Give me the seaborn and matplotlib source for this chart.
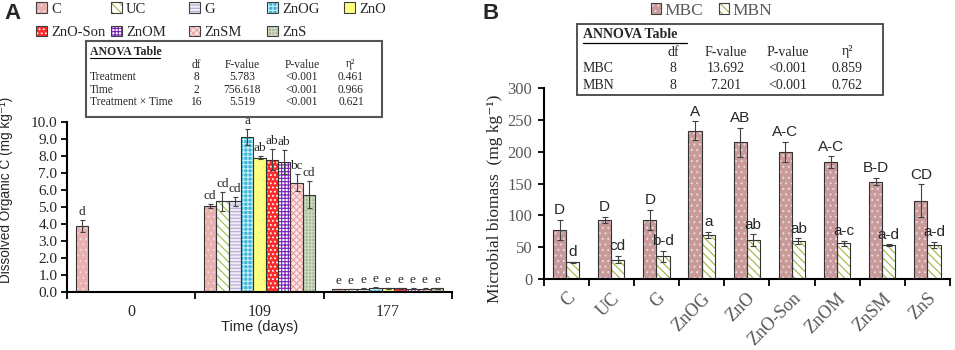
import pandas as pd
import matplotlib
matplotlib.use("Agg")
import matplotlib.pyplot as plt
from matplotlib.patches import Patch, Rectangle
from matplotlib.lines import Line2D
from matplotlib.legend_handler import HandlerTuple
import seaborn as sns

# ---- data ----
treatments = ["C", "UC", "G", "ZnOG", "ZnO", "ZnO-Son", "ZnOM", "ZnSM", "ZnS"]
days = ["0", "109", "177"]

doc_d0 = [3.85, None, None, None, None, None, None, None, None]
doc_d0_err = [0.35, None, None, None, None, None, None, None, None]
doc_d0_let = ["d", None, None, None, None, None, None, None, None]

doc_d109 = [5.05, 5.32, 5.32, 9.10, 7.89, 7.77, 7.63, 6.42, 5.71]
doc_d109_err = [0.13, 0.55, 0.25, 0.45, 0.08, 0.60, 0.68, 0.52, 0.78]
doc_d109_let = ["cd", "cd", "cd", "a", "ab", "ab", "ab", "bc", "cd"]

doc_d177 = [0.15, 0.16, 0.18, 0.22, 0.20, 0.20, 0.18, 0.17, 0.20]
doc_d177_err = [0.02, 0.02, 0.02, 0.03, 0.02, 0.03, 0.02, 0.02, 0.02]
doc_d177_let = ["e", "e", "e", "e", "e", "e", "e", "e", "e"]

mbc = [77, 93, 93, 233, 215, 200, 184, 153, 123]
mbc_err = [16, 5, 16, 15, 23, 16, 9, 6, 26]
mbc_let = ["D", "D", "D", "A", "AB", "A-C", "A-C", "B-D", "CD"]
mbn = [26, 30, 35, 69, 61, 59, 56, 53, 53]
mbn_err = [1, 6, 9, 5, 9, 4.5, 4, 1, 5]
mbn_let = ["d", "cd", "b-d", "a", "ab", "ab", "a-c", "a-d", "a-d"]

anova_a_rows = ["Treatment", "Time", "Treatment \u00d7 Time"]
anova_a_df = ["8", "2", "16"]
anova_a_f = ["5.783", "756.618", "5.519"]
anova_a_p = ["<0.001", "<0.001", "<0.001"]
anova_a_eta = ["0.461", "0.966", "0.621"]

anova_b_rows = ["MBC", "MBN"]
anova_b_df = ["8", "8"]
anova_b_f = ["13.692", "7.201"]
anova_b_p = ["<0.001", "<0.001"]
anova_b_eta = ["0.859", "0.762"]

# ---- styles ----
face = {"C": "#e8b0b0", "UC": "#ffffff", "G": "#f0ecf6", "ZnOG": "#3cb4d4",
        "ZnO": "#ffff80", "ZnO-Son": "#ff2a2a", "ZnOM": "#ffffff",
        "ZnSM": "#fbe4e4", "ZnS": "#a8b898", "MBC": "#c89a9a", "MBN": "#ffffff"}
hatch = {"C": "...", "UC": "\\\\\\\\", "G": "-----", "ZnOG": "++++",
         "ZnO": "", "ZnO-Son": "....", "ZnOM": "+++++", "ZnSM": "xxxxx",
         "ZnS": "+++++", "MBC": "...", "MBN": "\\\\\\\\"}
hcol = {"C": "#f4d6d6", "UC": "#9cbc40", "G": "#b8a8d8", "ZnOG": "#c8eef8",
        "ZnO": "#ffff80", "ZnO-Son": "#ffffff", "ZnOM": "#7a20b8",
        "ZnSM": "#eca0a0", "ZnS": "#d0dcc4", "MBC": "#ead6d6", "MBN": "#9cb640"}

SERIF = ["Liberation Serif", "DejaVu Serif"]
SANS = ["Liberation Sans", "DejaVu Sans"]
GRAY = "#595959"

sns.set_style("ticks")
plt.rcParams["font.family"] = SERIF
plt.rcParams["hatch.linewidth"] = 0.8

W, H = 955, 350
fig = plt.figure(figsize=(W / 100, H / 100), dpi=100)


def fx(x):
    return x / W


def fy(y):
    return 1 - y / H


def style_bar(ax, bar, key):
    bar.set_facecolor(face[key])
    bar.set_hatch(hatch[key])
    bar.set_edgecolor(hcol[key])
    bar.set_linewidth(0)
    ax.add_patch(Rectangle((bar.get_x(), 0), bar.get_width(), bar.get_height(),
                           fill=False, edgecolor="#333333", lw=0.8, zorder=3))


def legend_handle(key):
    return (Patch(facecolor=face[key], hatch=hatch[key], edgecolor=hcol[key], lw=0),
            Patch(fill=False, edgecolor="#404040", lw=0.8))


HMAP = {tuple: HandlerTuple(ndivide=1, pad=0)}

# ================= Panel A =================
axA = fig.add_axes([fx(67), fy(291.7), (452 - 67) / W, (291.7 - 121.7) / H])

vals_by_day = [doc_d0, doc_d109, doc_d177]
errs_by_day = [doc_d0_err, doc_d109_err, doc_d177_err]
lets_by_day = [doc_d0_let, doc_d109_let, doc_d177_let]

rows = []
for day, vals in zip(days, vals_by_day):
    for t, v in zip(treatments, vals):
        rows.append({"day": day, "trt": t, "doc": 0.0 if v is None else v})
dfA = pd.DataFrame(rows)

sns.barplot(data=dfA, x="day", y="doc", hue="trt", order=days, hue_order=treatments,
            palette=[face[t] for t in treatments], saturation=1, width=0.865,
            errorbar=None, legend=False, ax=axA)

for i, t in enumerate(treatments):
    for j, bar in enumerate(axA.containers[i]):
        v = vals_by_day[j][i]
        if v is None:
            bar.set_visible(False)
            continue
        style_bar(axA, bar, t)
        xc = bar.get_x() + bar.get_width() / 2
        e = errs_by_day[j][i]
        axA.errorbar(xc, v, yerr=e, fmt="none", ecolor="#404040", elinewidth=0.8,
                     capsize=1.8, capthick=0.8, zorder=4)
        axA.text(xc, v + e + 0.12, lets_by_day[j][i], ha="center", va="bottom",
                 fontsize=9.5, family=SERIF)

axA.set_xlim(-0.5, 2.5)
axA.set_ylim(0, 10)
axA.set_yticks([k for k in range(11)])
axA.set_yticklabels([f"{k:.1f}" for k in range(11)], fontsize=11)
axA.set_xticks([0, 1, 2])
axA.set_xticklabels(days, fontsize=11.5)
axA.set_xticks([-0.5, 0.5, 1.5, 2.5], minor=True)
axA.tick_params(axis="x", which="major", length=0, pad=9)
axA.tick_params(axis="x", which="minor", length=5, width=1.3, direction="out", color="black")
axA.tick_params(axis="y", length=4, width=1.3, direction="out", color="black", pad=3)
axA.set_xlabel("Time (days)", family=SANS, fontsize=10.5, labelpad=0)
axA.set_ylabel("Dissolved Organic C (mg kg\u207b\u00b9)", family=SANS, fontsize=9.8)
axA.yaxis.set_label_coords(-0.14, 0.6)
sns.despine(ax=axA)
for s in ["left", "bottom"]:
    axA.spines[s].set_linewidth(1.5)
    axA.spines[s].set_color("black")

# legend A, laid out column by column
legend_cols = [["C", "ZnO-Son"], ["UC", "ZnOM"], ["G", "ZnSM"], ["ZnOG", "ZnS"], ["ZnO"]]
col_x = [35, 110, 188, 266, 343]
for cx, keys in zip(col_x, legend_cols):
    fig.legend([legend_handle(k) for k in keys], keys, loc="upper left",
               bbox_to_anchor=(fx(cx), fy(1)), frameon=False, fontsize=10.5,
               handlelength=0.7, handleheight=0.7, handletextpad=0.3,
               labelspacing=0.7, borderpad=0.1, borderaxespad=0, handler_map=HMAP)

# ANOVA table A
fig.add_artist(Rectangle((fx(86), fy(117)), (382 - 86) / W, (117 - 41) / H,
                         transform=fig.transFigure, facecolor="white",
                         edgecolor="#555555", lw=1.5, zorder=5))
fig.text(fx(90), fy(52), "ANOVA Table", fontsize=8.5, weight="bold", va="center", zorder=6)
fig.add_artist(Line2D([fx(90), fx(160)], [fy(58), fy(58)], color="black", lw=0.8, zorder=6))
for x, s in zip([196, 242, 302, 351], ["df", "F-value", "P-value", "\u03b7\u00b2"]):
    fig.text(fx(x), fy(64.5), s, fontsize=8.3, ha="center", va="center", zorder=6)
for k, y in enumerate([77, 89.7, 102.3]):
    fig.text(fx(90), fy(y), anova_a_rows[k], fontsize=8.3, va="center", zorder=6)
    for x, col in zip([196, 242, 302, 351], [anova_a_df, anova_a_f, anova_a_p, anova_a_eta]):
        fig.text(fx(x), fy(y), col[k], fontsize=8.3, ha="center", va="center", zorder=6)

# ================= Panel B =================
axB = fig.add_axes([fx(543.5), fy(278.7), (950 - 543.5) / W, (278.7 - 88.3) / H])

rowsB = []
for t, c, n in zip(treatments, mbc, mbn):
    rowsB.append({"trt": t, "var": "MBC", "val": c})
    rowsB.append({"trt": t, "var": "MBN", "val": n})
dfB = pd.DataFrame(rowsB)

sns.barplot(data=dfB, x="trt", y="val", hue="var", order=treatments, hue_order=["MBC", "MBN"],
            palette=[face["MBC"], face["MBN"]], saturation=1, width=0.58,
            errorbar=None, legend=False, ax=axB)

for key, vals, errs, lets, cont in [("MBC", mbc, mbc_err, mbc_let, axB.containers[0]),
                                    ("MBN", mbn, mbn_err, mbn_let, axB.containers[1])]:
    for bar, v, e, lt in zip(cont, vals, errs, lets):
        style_bar(axB, bar, key)
        xc = bar.get_x() + bar.get_width() / 2
        axB.errorbar(xc, v, yerr=e, fmt="none", ecolor="#404040", elinewidth=0.8,
                     capsize=2.2, capthick=0.8, zorder=4)
        axB.text(xc, v + e + 4, lt, ha="center", va="bottom", fontsize=11, family=SANS)

axB.set_xlim(-0.5, len(treatments) - 0.5)
axB.set_ylim(0, 300)
axB.set_yticks(range(0, 301, 50))
axB.set_yticklabels([str(k) for k in range(0, 301, 50)], fontsize=12, color=GRAY)
axB.set_xticks(range(len(treatments)))
axB.set_xticklabels(treatments, fontsize=13, color=GRAY, rotation=45, ha="right",
                    rotation_mode="anchor")
axB.set_xticks([k - 0.5 for k in range(len(treatments) + 1)], minor=True)
axB.tick_params(axis="x", which="major", length=0, pad=8)
axB.tick_params(axis="x", which="minor", length=5, width=1.3, direction="out", color="black")
axB.tick_params(axis="y", length=4, width=1.3, direction="out", color="black", pad=4)
axB.set_xlabel("")
axB.set_ylabel("Microbial biomass  (mg kg\u207b\u00b9)", fontsize=12.5)
axB.yaxis.set_label_coords(-0.1, 0.42)
sns.despine(ax=axB)
for s in ["left", "bottom"]:
    axB.spines[s].set_linewidth(1.5)
    axB.spines[s].set_color("black")

fig.legend([legend_handle("MBC"), legend_handle("MBN")], ["MBC", "MBN"], loc="upper left",
           bbox_to_anchor=(fx(648), fy(0)), ncol=2, frameon=False, fontsize=12.5,
           labelcolor=GRAY, handlelength=0.6, handleheight=0.6, handletextpad=0.2,
           columnspacing=0.9, borderpad=0.15, borderaxespad=0, handler_map=HMAP)

# ANOVA table B
fig.add_artist(Rectangle((fx(577), fy(95)), (883 - 577) / W, (95 - 24) / H,
                         transform=fig.transFigure, facecolor="white",
                         edgecolor="#444444", lw=1.3, zorder=5))
fig.text(fx(583), fy(35), "ANNOVA Table", fontsize=10, weight="bold", va="center", zorder=6)
fig.add_artist(Line2D([fx(583), fx(687)], [fy(42.5), fy(42.5)], color="black", lw=0.9, zorder=6))
for x, s in zip([673, 726, 788, 847], ["df", "F-value", "P-value", "\u03b7\u00b2"]):
    fig.text(fx(x), fy(52), s, fontsize=10, ha="center", va="center", zorder=6)
for k, y in enumerate([68.5, 85.5]):
    fig.text(fx(583), fy(y), anova_b_rows[k], fontsize=10, va="center", zorder=6)
    for x, col in zip([673, 726, 788, 847], [anova_b_df, anova_b_f, anova_b_p, anova_b_eta]):
        fig.text(fx(x), fy(y), col[k], fontsize=10, ha="center", va="center", zorder=6)

# panel letters
fig.text(fx(4), fy(3), "A", family=SANS, weight="bold", fontsize=16, va="top")
fig.text(fx(482), fy(3), "B", family=SANS, weight="bold", fontsize=16, va="top")

fig.savefig("out.png", dpi=100)
